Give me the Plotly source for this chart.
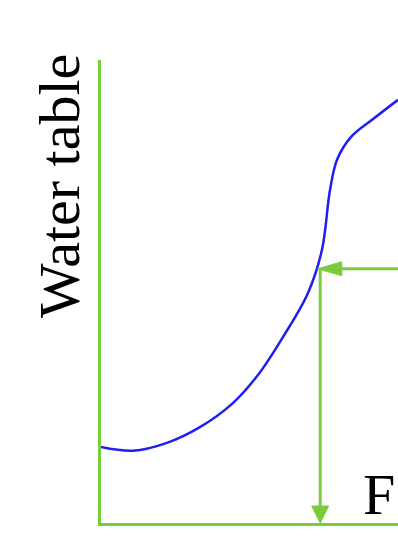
import plotly.graph_objects as go

# curve: water table vs flow (axis units 0-10)
curve_x = [0.0, 1.08, 2.22, 3.33, 4.44, 5.29, 6.13, 6.97, 7.44, 7.71,
           7.95, 8.42, 9.15, 10.0]
curve_y = [1.64, 1.56, 1.73, 2.07, 2.59, 3.20, 4.02, 4.97, 5.90, 7.19,
           7.85, 8.34, 8.72, 9.14]

# the reading arrows: come in from the right at the water table level, then drop to F
read_level = 5.49
read_x = 7.30
x_max = 10.0
y_max = 10.0

green = '#7acc3a'
blue = '#1e1ef5'

W, H = 398, 558
margin = dict(l=101, r=0, t=60, b=35)
px_x = (W - margin['l'] - margin['r']) / x_max   # pixels per x unit
px_y = (H - margin['t'] - margin['b']) / y_max   # pixels per y unit

fig = go.Figure()

fig.add_trace(go.Scatter(x=curve_x, y=curve_y, mode='lines',
                         line=dict(color=blue, width=2.5, shape='spline', smoothing=1),
                         hoverinfo='skip'))

# horizontal arrow (head points left)
h_len, h_half = 24 / px_x, 7 / px_y
fig.add_trace(go.Scatter(x=[x_max + 1, read_x + h_len], y=[read_level, read_level],
                         mode='lines', line=dict(color=green, width=3),
                         hoverinfo='skip'))
fig.add_trace(go.Scatter(x=[read_x, read_x + h_len, read_x + h_len, read_x],
                         y=[read_level, read_level + h_half, read_level - h_half, read_level],
                         mode='lines', fill='toself', fillcolor=green,
                         line=dict(color=green, width=1), hoverinfo='skip'))

# vertical arrow (head points down)
v_len, v_half = 17 / px_y, 8.5 / px_x
vx = read_x + 0.08
fig.add_trace(go.Scatter(x=[vx, vx], y=[read_level, v_len],
                         mode='lines', line=dict(color=green, width=3),
                         hoverinfo='skip'))
fig.add_trace(go.Scatter(x=[vx, vx - v_half, vx + v_half, vx],
                         y=[0, v_len, v_len, 0],
                         mode='lines', fill='toself', fillcolor=green,
                         line=dict(color=green, width=1), hoverinfo='skip'))

fig.add_annotation(text='Water table', xref='paper', yref='paper',
                   x=-0.138, y=0.728, xanchor='center', yanchor='middle',
                   textangle=-90, showarrow=False,
                   font=dict(family='Liberation Serif', size=58, color='black'))
fig.add_annotation(text='F', xref='paper', yref='paper',
                   x=0.877, y=0.061, xanchor='left', yanchor='middle',
                   showarrow=False,
                   font=dict(family='Liberation Serif', size=58, color='black'))

fig.update_layout(width=W, height=H, margin=margin, showlegend=False,
                  plot_bgcolor='white', paper_bgcolor='white')
fig.update_xaxes(range=[0, x_max], showline=True, linecolor=green, linewidth=3,
                 showgrid=False, zeroline=False, showticklabels=False, ticks='')
fig.update_yaxes(range=[0, y_max], showline=True, linecolor=green, linewidth=3,
                 showgrid=False, zeroline=False, showticklabels=False, ticks='')

fig.write_html("out.html", config={'displayModeBar': False},
               post_script="document.body.style.margin='0';document.body.style.overflow='hidden';")
